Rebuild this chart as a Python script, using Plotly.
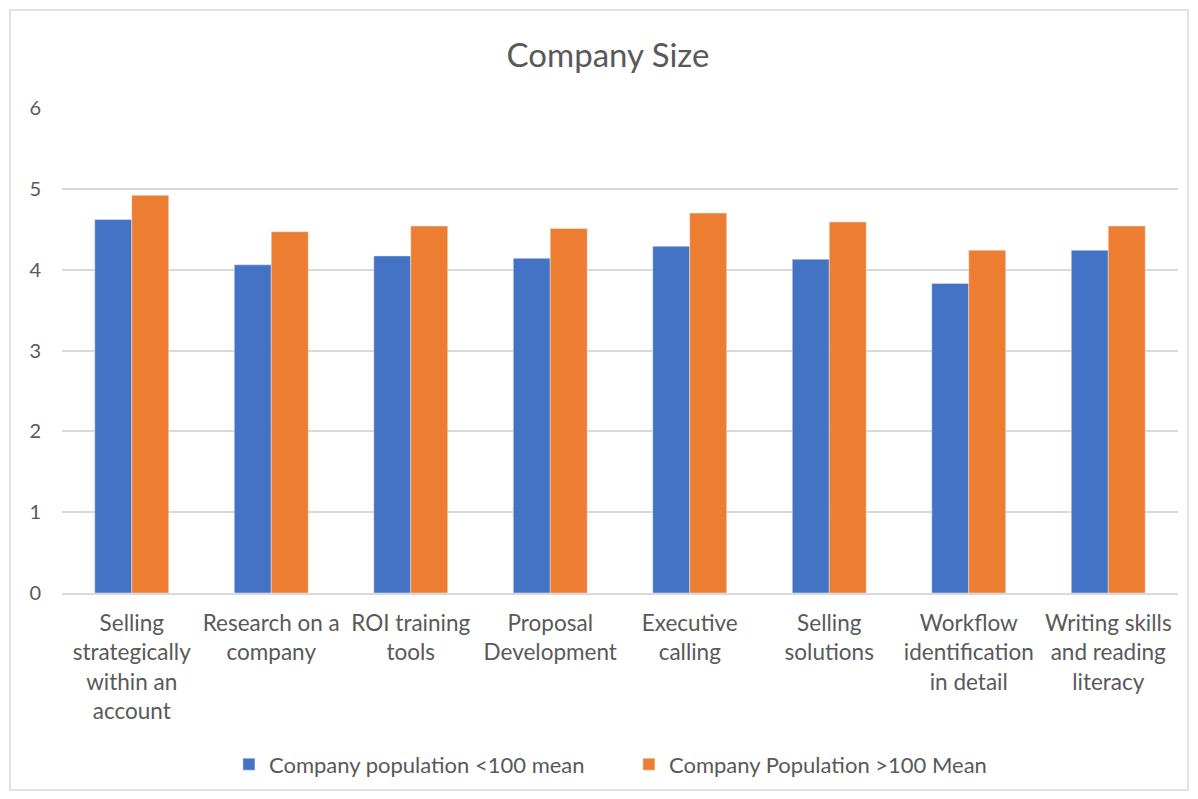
import plotly.graph_objects as go

categories = [
    "Selling<br>strategically<br>within an<br>account",
    "Research on a<br>company",
    "ROI training<br>tools",
    "Proposal<br>Development",
    "Executive<br>calling",
    "Selling<br>solutions",
    "Workflow<br>identification<br>in detail",
    "Writing skills<br>and reading<br>literacy",
]
small_company_mean = [4.62, 4.06, 4.17, 4.14, 4.29, 4.13, 3.83, 4.24]
large_company_mean = [4.92, 4.47, 4.54, 4.51, 4.70, 4.59, 4.24, 4.54]

text_color = "#595959"
font_family = "Lato, Carlito, Calibri, sans-serif"

fig = go.Figure()
fig.add_trace(go.Bar(
    x=categories, y=small_company_mean,
    name="Company population <100 mean",
    marker_color="#4472C4",
))
fig.add_trace(go.Bar(
    x=categories, y=large_company_mean,
    name="Company Population >100 Mean",
    marker_color="#ED7D31",
))

fig.update_layout(
    width=1198, height=799,
    paper_bgcolor="white", plot_bgcolor="white",
    margin=dict(l=62, r=20, t=108, b=206, autoexpand=False),
    barmode="group", bargap=0.47, bargroupgap=0,
    font=dict(family=font_family, color=text_color, size=21),
    title=dict(text="Company Size", x=0.5075, xanchor="center", y=0.931, yanchor="middle",
               font=dict(size=33, color=text_color, family=font_family)),
    legend=dict(orientation="h", x=0.508, xanchor="center", y=-0.31, yanchor="top",
                bgcolor="rgba(0,0,0,0)",
                font=dict(size=22, color=text_color),
                entrywidth=355, entrywidthmode="pixels",
                traceorder="normal"),
    showlegend=True,
)
fig.update_yaxes(range=[0, 6], dtick=1, showgrid=True, gridcolor="#D9D9D9", gridwidth=2,
                 zeroline=False, showline=False, ticks="", ticklabelstandoff=20,
                 automargin=False, tickfont=dict(size=20, color=text_color))
fig.update_xaxes(showline=True, linecolor="#D9D9D9", linewidth=2, ticks="",
                 ticklabelstandoff=9, automargin=False,
                 tickfont=dict(size=22.5, color=text_color), tickangle=0)

# outer chart border
fig.add_shape(type="rect", xref="paper", yref="paper",
              x0=-0.0466, x1=1.009, y0=-0.406, y1=1.202,
              line=dict(color="#D9D9D9", width=1.5), fillcolor="rgba(0,0,0,0)")

fig.write_html("out.html")
